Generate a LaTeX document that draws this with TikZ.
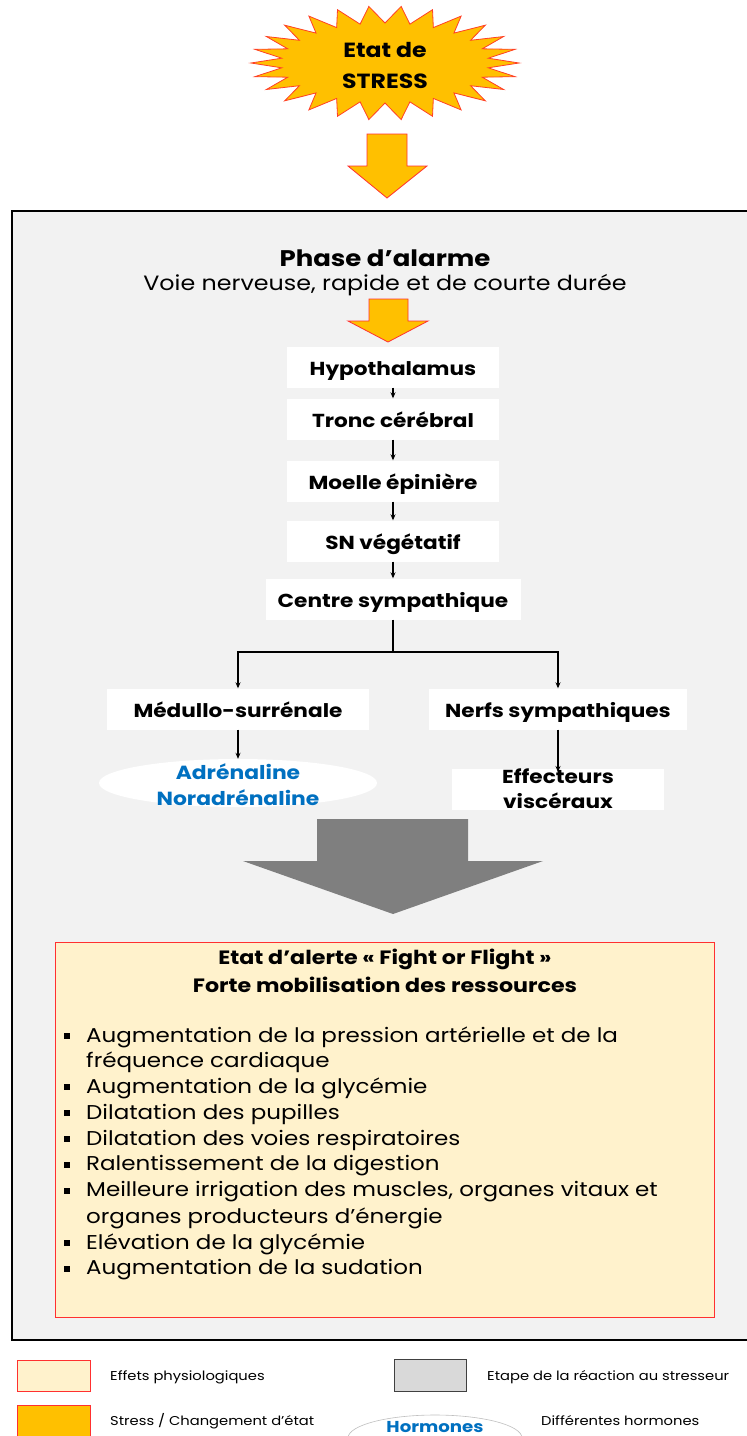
\documentclass[tikz,border=0pt]{standalone}
\usepackage{fontspec}
\setmainfont{Poppins}[FakeStretch=1.15]
\usetikzlibrary{arrows.meta,shapes.geometric}
\definecolor{gold}{HTML}{FFC000}
\definecolor{cream}{HTML}{FFF2CC}
\definecolor{panel}{HTML}{F2F2F2}
\definecolor{blu}{HTML}{0070C0}
\definecolor{redline}{HTML}{FF3030}
\definecolor{arrowgray}{HTML}{7F7F7F}
\definecolor{lgray}{HTML}{D9D9D9}
\tikzset{
  wbox/.style={fill=white, draw=none, inner sep=0pt, minimum height=41, text height=18pt, text depth=2pt, font=\fontsize{18.8}{22}\selectfont\bfseries},
  conn/.style={line width=1.3pt, -{Stealth[length=6pt,width=5pt]}},
  plain/.style={line width=1.3pt},
  bul/.style={anchor=west, inner sep=0pt, font=\fontsize{20}{23}\selectfont},
  sq/.style={fill=black, minimum size=5.5, inner sep=0pt},
  legtxt/.style={anchor=west, inner sep=0pt, font=\fontsize{12.8}{15}\selectfont},
  orangearrow/.style={fill=gold, draw=redline, line width=0.8pt, line join=miter}
}
\begin{document}
\begin{tikzpicture}[x=1pt,y=-1pt]
\useasboundingbox (0,0) rectangle (747,1436);
\clip (0,0) rectangle (747,1436);
% star
\filldraw[fill=gold, draw=redline!80!orange, line width=0.8pt, line join=miter]
  ({385+134}, 63) \foreach \k in {0,...,25} {
     -- ({385+134*cos(\k*360/26)}, {63+57*sin(\k*360/26)})
     -- ({385+104*cos((\k+0.5)*360/26)}, {63+40*sin((\k+0.5)*360/26)}) } -- cycle;
\node[align=center, font=\fontsize{20.5}{31}\selectfont\bfseries] (stress) at (385,65) {Etat de\\STRESS};
% top arrow
\filldraw[orangearrow] (367,134) -- (407,134) -- (407,166) -- (427,166) -- (387,198) -- (348,166) -- (367,166) -- cycle;
% panel
\filldraw[fill=panel, draw=black, line width=2.5pt] (12,211) rectangle (770,1340);
\node[font=\fontsize{22.6}{26}\selectfont\bfseries] (phase) at (385,258) {Phase d’alarme};
\node[font=\fontsize{20.7}{24}\selectfont] (voie) at (385,285) {Voie nerveuse, rapide et de courte durée};
\filldraw[orangearrow] (369,299) -- (408,299) -- (408,321) -- (428,321) -- (388,342) -- (348,321) -- (369,321) -- cycle;
% chain
\node[wbox, minimum width=212] (hyp) at (393,367) {Hypothalamus};
\node[wbox, minimum width=212] (tronc) at (393,419) {Tronc cérébral};
\node[wbox, minimum width=212] (moelle) at (393,481) {Moelle épinière};
\node[wbox, minimum width=212] (sn) at (393,541) {SN végétatif};
\node[wbox, minimum width=255] (centre) at (393,599) {Centre sympathique};
\draw[conn] (hyp) -- (tronc);
\draw[conn] (tronc) -- (moelle);
\draw[conn] (moelle) -- (sn);
\draw[conn] (sn) -- (centre);
\coordinate (split) at (393,652);
\coordinate (lsplit) at (238,652);
\coordinate (rsplit) at (558,652);
\node[wbox, minimum width=262] (medullo) at (238,709) {Médullo-surrénale};
\node[wbox, minimum width=258] (nerfs) at (558,709) {Nerfs sympathiques};
\draw[plain] (centre) -- (split);
\draw[conn] (split) -- (lsplit) -- (medullo);
\draw[conn] (split) -- (rsplit) -- (nerfs);
\node[ellipse, fill=white, draw=none, minimum width=278, minimum height=48, inner sep=0pt] (horm) at (238,783) {};
\node[align=center, text=blu, font=\fontsize{19}{26}\selectfont\bfseries] (hormtxt) at (238,785) {Adrénaline\\Noradrénaline};
\node[fill=white, inner sep=0pt, minimum width=212, minimum height=41, align=center, font=\fontsize{18.8}{25}\selectfont\bfseries] (eff) at (558,789) {Effecteurs\\viscéraux};
\draw[conn] (medullo) -- (horm);
\draw[conn] (nerfs) -- (558,772);
% gray arrow
\fill[arrowgray] (317,819) -- (468,819) -- (468,861) -- (543,861) -- (393,914) -- (243,861) -- (317,861) -- cycle;
% effects box
\filldraw[fill=cream, draw=redline, line width=0.8pt] (55,942) rectangle (714,1317);
\node[font=\fontsize{19.3}{22}\selectfont\bfseries] (t1) at (385,959) {Etat d’alerte « Fight or Flight »};
\node[font=\fontsize{19.3}{22}\selectfont\bfseries] (t2) at (385,985) {Forte mobilisation des ressources};
\node[sq] (s1) at (67,1036) {};
\node[bul] (l1) at (86,1037) {Augmentation de la pression artérielle et de la};
\node[bul] (l1b) at (86,1062) {fréquence cardiaque};
\node[sq] (s2) at (67,1087) {};
\node[bul] (l2) at (86,1088) {Augmentation de la glycémie};
\node[sq] (s3) at (67,1113) {};
\node[bul] (l3) at (86,1114) {Dilatation des pupilles};
\node[sq] (s4) at (67,1139) {};
\node[bul] (l4) at (86,1140) {Dilatation des voies respiratoires};
\node[sq] (s5) at (67,1165) {};
\node[bul] (l5) at (86,1166) {Ralentissement de la digestion};
\node[sq] (s6) at (67,1191) {};
\node[bul] (l6) at (86,1192) {Meilleure irrigation des muscles, organes vitaux et};
\node[bul] (l6b) at (86,1218) {organes producteurs d’énergie};
\node[sq] (s7) at (67,1243) {};
\node[bul] (l7) at (86,1244) {Elévation de la glycémie};
\node[sq] (s8) at (67,1269) {};
\node[bul] (l8) at (86,1270) {Augmentation de la sudation};
% legend
\filldraw[fill=cream, draw=redline, line width=0.8pt] (17,1360) rectangle (90,1391);
\node[legtxt] (lg1) at (110,1377) {Effets physiologiques};
\filldraw[fill=lgray, draw=black!75, line width=0.8pt] (394,1359) rectangle (466,1391);
\node[legtxt] (lg2) at (487,1377) {Etape de la réaction au stresseur};
\filldraw[fill=gold, draw=redline, line width=0.8pt] (17,1405) rectangle (90,1450);
\node[legtxt] (lg3) at (110,1421) {Stress / Changement d’état};
\node[ellipse, fill=white, draw=black!25, line width=0.6pt, minimum width=174, minimum height=46, inner sep=0pt] (lgell) at (435,1438) {};
\node[text=blu, font=\fontsize{15.8}{18}\selectfont\bfseries] (lghorm) at (435,1427) {Hormones};
\node[legtxt] (lg4) at (541,1421) {Différentes hormones};
\end{tikzpicture}
\end{document}
